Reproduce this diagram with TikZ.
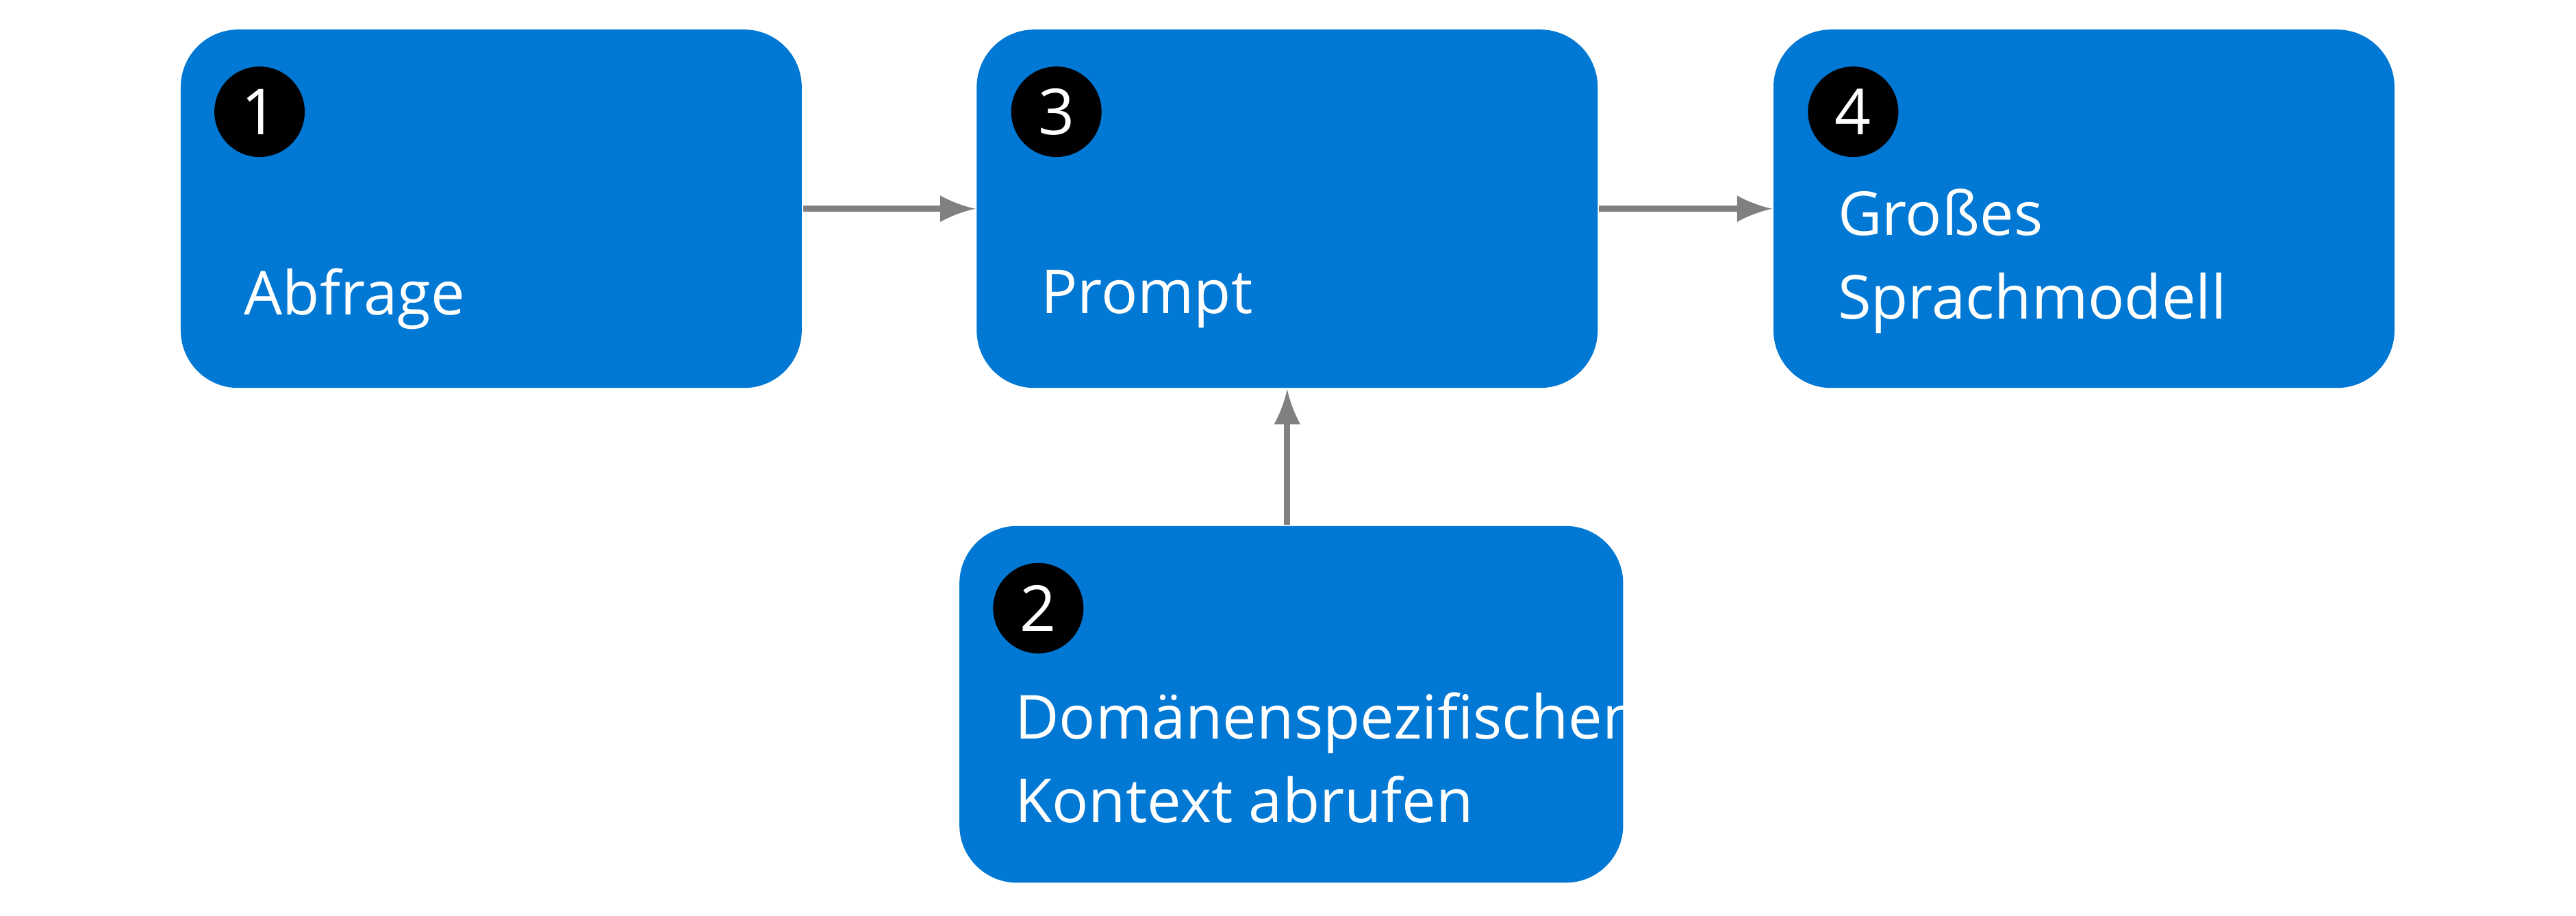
\documentclass[tikz,border=0pt]{standalone}
\usepackage{fontspec}
\setmainfont{Open Sans}
\usetikzlibrary{positioning}
\definecolor{msblue}{HTML}{0078D4}
\definecolor{arrgray}{HTML}{808080}
\tikzset{
  box/.style={fill=msblue, rounded corners=0.35cm, minimum width=3.78cm, minimum height=2.18cm, inner sep=0pt},
  num/.style={circle, fill=black, text=white, minimum size=0.55cm, inner sep=0pt, font=\fontsize{11}{13}\selectfont},
  lbl/.style={text=white, anchor=west, inner sep=0pt, font=\fontsize{10.5}{14.5}\selectfont, align=left},
  conn/.style={draw=arrgray, line width=1.1pt, -latex}
}
\begin{document}
\begin{tikzpicture}
    \useasboundingbox (0,0) rectangle (15.68,5.57);
    \node [box] (query) at (2.99,4.30) {};
    \node [box] (prompt) at (7.835,4.30) {};
    \node [box] (llm) at (12.685,4.30) {};
    \node [box, minimum width=4.04cm, minimum height=2.17cm] (context) at (7.86,1.285) {};
    \node [num] (n1) at (1.58,4.89) {1};
    \node [num] (n3) at (6.43,4.89) {3};
    \node [num] (n4) at (11.28,4.89) {4};
    \node [num] (n2) at (6.32,1.87) {2};
    \node [lbl] (t1) at (1.48,3.75) {Abfrage};
    \node [lbl] (t3) at (6.33,3.75) {Prompt};
    \node [lbl] (t4) at (11.18,3.98) {Großes\\Sprachmodell};
    \node [lbl] (t2) at (6.17,0.96) {Domänenspezifischen\\Kontext abrufen};
    \draw [conn] (query.east) -- (prompt.west);
    \draw [conn] (prompt.east) -- (llm.west);
    \draw [conn] (context.north -| prompt.south) -- (prompt.south);
\end{tikzpicture}
\end{document}
